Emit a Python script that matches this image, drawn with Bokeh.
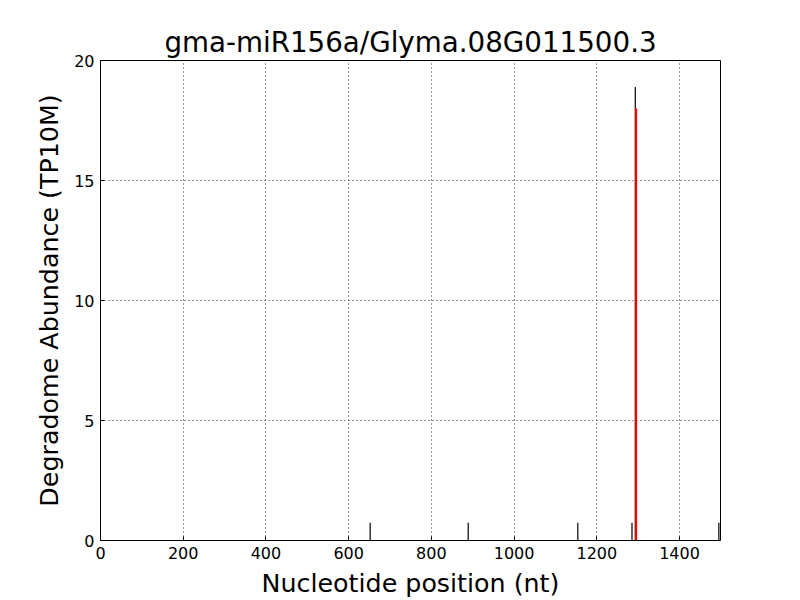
from bokeh.plotting import figure
from bokeh.embed import file_html
from bokeh.resources import INLINE
from bokeh.models import Range1d, FixedTicker

title_text = "gma-miR156a/Glyma.08G011500.3"
x_label = "Nucleotide position (nt)"
y_label = "Degradome Abundance (TP10M)"

# degradome tags (black)
tag_pos = [652, 889, 1154, 1285, 1293, 1495]
tag_val = [0.74, 0.74, 0.74, 0.74, 18.9, 0.74]
# cleavage site (red)
site_pos = [1295]
site_val = [18.0]

x_max = 1499
x_ticks = [0, 200, 400, 600, 800, 1000, 1200, 1400]
y_ticks = [0, 5, 10, 15, 20]

FONT = "DejaVu Sans"

p = figure(width=800, height=600, output_backend="svg", toolbar_location=None,
           x_range=Range1d(0, x_max), y_range=Range1d(0, 20),
           min_border_left=100, min_border_right=80, min_border_top=60, min_border_bottom=60,
           frame_width=620, frame_height=480)

p.title.text = title_text
p.title.align = "center"
p.title.text_font = FONT
p.title.text_font_size = "20.8pt"
p.title.text_font_style = "normal"
p.title.text_color = "black"
p.title.standoff = 4

p.segment(x0=tag_pos, y0=[0] * len(tag_pos), x1=tag_pos, y1=tag_val,
          line_color="black", line_width=1.2)
p.segment(x0=site_pos, y0=[0] * len(site_pos), x1=site_pos, y1=site_val,
          line_color="red", line_width=2)

p.xaxis.ticker = FixedTicker(ticks=x_ticks)
p.yaxis.ticker = FixedTicker(ticks=y_ticks)
p.xaxis.axis_label = x_label
p.yaxis.axis_label = y_label
for ax in (p.xaxis[0], p.yaxis[0]):
    ax.axis_label_text_font = FONT
    ax.axis_label_text_font_size = "19pt"
    ax.axis_label_text_font_style = "normal"
    ax.axis_label_text_color = "black"
    ax.major_label_text_font = FONT
    ax.major_label_text_font_size = "12pt"
    ax.major_label_text_color = "black"
    ax.axis_line_color = None
    ax.major_tick_in = 4
    ax.major_tick_out = 0
    ax.major_tick_line_color = "black"
    ax.minor_tick_line_color = None
    ax.major_label_standoff = 6
p.xaxis.axis_label_standoff = 6
p.yaxis.axis_label_standoff = 7

p.grid.grid_line_color = "black"
p.grid.grid_line_dash = "1 3"
p.grid.grid_line_width = 1
p.grid.grid_line_alpha = 0.8

p.outline_line_color = "black"
p.outline_line_width = 1
p.outline_line_alpha = 1
p.background_fill_color = "white"
p.border_fill_color = "white"

open("out.html", "w").write(file_html(p, INLINE))
